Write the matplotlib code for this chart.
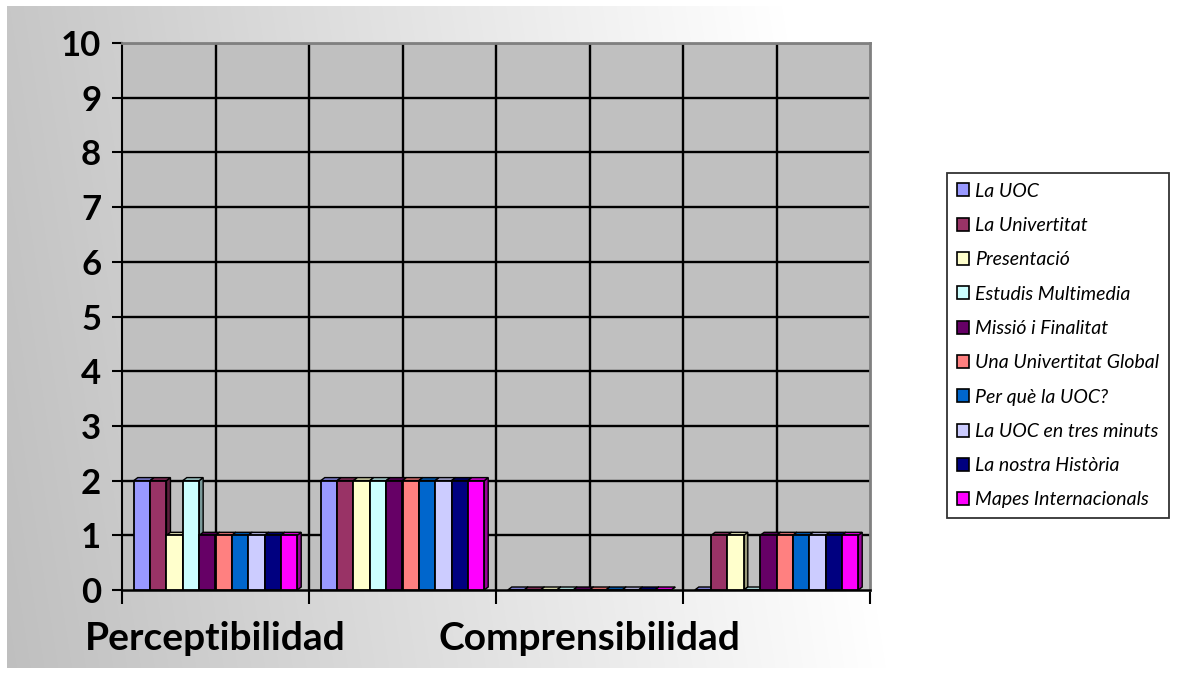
import matplotlib
matplotlib.use('Agg')
import matplotlib.pyplot as plt
import numpy as np
from matplotlib.patches import Polygon, Patch
from matplotlib.colors import to_rgb

plt.rcParams['font.family'] = ['Lato', 'DejaVu Sans']

# Data
categories = ['Perceptibilidad', 'Operabilidad', 'Comprensibilidad', 'Robustez']
shown_labels = ['Perceptibilidad', '', 'Comprensibilidad', '']
series_names = ['La UOC', 'La Univertitat', 'Presentació', 'Estudis Multimedia',
                'Missió i Finalitat', 'Una Univertitat Global', 'Per què la UOC?',
                'La UOC en tres minuts', 'La nostra Història', 'Mapes Internacionals']
series_colors = ['#9999FF', '#993366', '#FFFFCC', '#CCFFFF', '#660066',
                 '#FF8080', '#0066CC', '#CCCCFF', '#000080', '#FF00FF']
la_uoc = [2, 2, 0, 0]
la_univertitat = [2, 2, 0, 1]
presentacio = [1, 2, 0, 1]
estudis_multimedia = [2, 2, 0, 0]
missio_finalitat = [1, 2, 0, 1]
univertitat_global = [1, 2, 0, 1]
per_que_uoc = [1, 2, 0, 1]
uoc_tres_minuts = [1, 2, 0, 1]
nostra_historia = [1, 2, 0, 1]
mapes_internacionals = [1, 2, 0, 1]
values = [la_uoc, la_univertitat, presentacio, estudis_multimedia, missio_finalitat,
          univertitat_global, per_que_uoc, uoc_tres_minuts, nostra_historia,
          mapes_internacionals]

W, H = 1180, 673
fig = plt.figure(figsize=(W / 100, H / 100), dpi=100)

# gradient background
bg = fig.add_axes([0, 0, 1, 1], zorder=-10)
xx = np.linspace(0, 1, W)
yy = np.linspace(0, 1, H)[:, None]
t = np.clip((xx * W - 7) / 880 + 0.12 * (1 - yy), 0, 1)
shade = 0.75 + 0.25 * t
img = np.ones((H, W, 3))
img[6:668, 7:, :] = np.repeat(shade[6:668, 7:, None], 3, axis=2)
bg.imshow(img, aspect='auto', extent=[0, W, H, 0])
bg.axis('off')

# plot area in pixel units
left, right, top, bottom = 122, 870, 43, 590
ax = fig.add_axes([left / W, (H - bottom) / H, (right - left) / W, (bottom - top) / H])
ax.set_facecolor('#C0C0C0')
ax.set_xlim(0, len(categories))
ax.set_ylim(0, 10)

px_x = len(categories) / (right - left)
px_y = 10 / (bottom - top)
dx, dy = 4 * px_x, 3 * px_y

n = len(series_names)
bar_w = 0.874 / n
x0 = np.arange(len(categories)) + 0.063

for i, (vals, col) in enumerate(zip(values, series_colors)):
    bars = ax.bar(x0 + i * bar_w, vals, width=bar_w, align='edge', color=col,
                  edgecolor='black', linewidth=1.3, zorder=3)
    r, g, b = to_rgb(col)
    side_c = (r * 0.6, g * 0.6, b * 0.6)
    top_c = (r * 0.8, g * 0.8, b * 0.8)
    for bar in bars:
        bx, bw, bh = bar.get_x(), bar.get_width(), bar.get_height()
        ax.add_patch(Polygon([(bx + bw, 0), (bx + bw + dx, dy), (bx + bw + dx, bh + dy), (bx + bw, bh)],
                             closed=True, facecolor=side_c, edgecolor='black', linewidth=1.0, zorder=2))
        ax.add_patch(Polygon([(bx, bh), (bx + dx, bh + dy), (bx + bw + dx, bh + dy), (bx + bw, bh)],
                             closed=True, facecolor=top_c, edgecolor='black', linewidth=1.0, zorder=2))

# grid
ax.set_yticks(range(0, 11))
ax.set_xticks(range(0, len(categories) + 1))
for yv in range(1, 11):
    ax.axhline(yv, color='black', linewidth=1.7, zorder=1)
for xv in np.arange(0.5, len(categories), 0.5):
    ax.axvline(xv, color='black', linewidth=1.7, zorder=1)

ax.set_xticklabels([])
for xc, lab in zip(np.arange(len(categories)) + 0.5, shown_labels):
    ax.text(xc, -0.57, lab, ha='center', va='top', fontsize=28,
            fontweight='bold', transform=ax.transData)

ax.tick_params(axis='y', direction='out', length=7, width=1.5, pad=8,
               labelsize=25)
for lab in ax.get_yticklabels():
    lab.set_fontweight('bold')
ax.tick_params(axis='x', direction='out', length=10, width=1.5)

for s in ['top', 'right']:
    ax.spines[s].set_color('#808080')
    ax.spines[s].set_linewidth(2)
ax.spines['left'].set_color('black')
ax.spines['left'].set_linewidth(1.5)
ax.spines['bottom'].set_color('black')
ax.spines['bottom'].set_linewidth(1.8)

# legend
handles = [Patch(facecolor=c, edgecolor='black', linewidth=1.2, label=nm)
           for c, nm in zip(series_colors, series_names)]
leg = fig.legend(handles=handles, loc='upper left',
                 bbox_to_anchor=(947 / W, 1 - 173 / H), frameon=True, fancybox=False,
                 prop={'size': 14, 'style': 'italic'}, labelspacing=0.89,
                 handlelength=0.65, handleheight=0.65, handletextpad=0.3,
                 borderpad=0.5, borderaxespad=0)
leg.get_frame().set_edgecolor('black')
leg.get_frame().set_linewidth(1.3)
leg.get_frame().set_facecolor('white')

fig.savefig('out.png', dpi=100)
